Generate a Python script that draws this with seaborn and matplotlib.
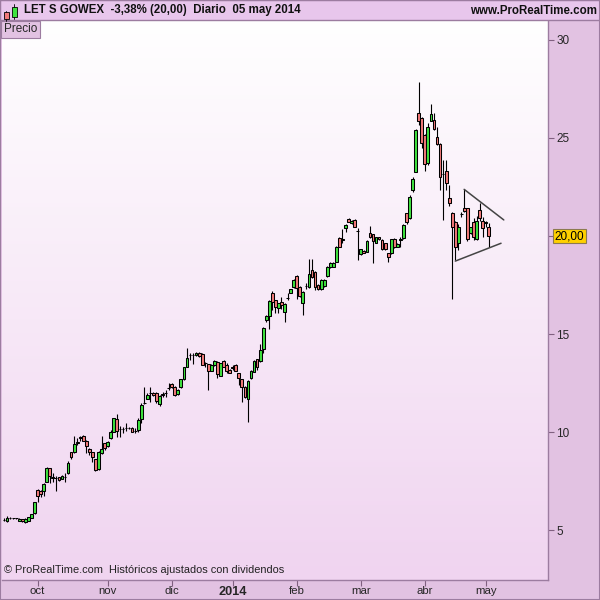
import numpy as np
import matplotlib
matplotlib.use("Agg")
import matplotlib.pyplot as plt
import matplotlib.transforms as mtransforms
from matplotlib.patches import Rectangle
import seaborn as sns

# ---------------- data (daily OHLC, LET S GOWEX, sep 2013 - 05 may 2014) ----------------
open_ = [5.50, 5.46, 5.59, 5.60, 5.60, 5.46, 5.55, 5.41, 5.47, 5.63,
         5.85, 7.03, 7.01, 7.01, 7.47, 8.15, 7.68, 7.66, 7.69, 7.62,
         7.69, 7.92, 8.98, 8.98, 9.46, 9.72, 9.80, 9.56, 9.12, 8.96,
         8.61, 8.11, 8.91, 9.42, 9.29, 9.68, 10.02, 10.65, 10.13, 10.13,
         10.18, 10.19, 10.22, 10.06, 10.10, 10.65, 11.48, 11.70, 11.99, 12.00,
         12.00, 11.43, 11.91, 12.00, 12.25, 12.45, 12.31, 11.94, 12.28, 12.69,
         13.33, 13.92, 13.93, 13.93, 14.05, 13.98, 13.51, 13.45, 13.13, 13.42,
         13.59, 12.87, 13.64, 13.42, 13.16, 13.29, 13.42, 13.00, 12.69, 12.31,
         11.68, 12.74, 13.08, 13.71, 13.62, 14.23, 15.71, 15.92, 17.08, 16.73,
         16.31, 16.65, 16.14, 16.84, 17.11, 17.38, 17.96, 17.41, 16.57, 17.44,
         17.38, 18.27, 18.18, 17.50, 17.28, 17.45, 17.96, 18.40, 18.43, 18.69,
         19.88, 19.82, 20.39, 20.87, 20.65, 20.82, 20.26, 19.08, 19.25, 19.20,
         20.14, 20.09, 19.66, 19.93, 19.80, 19.63, 19.12, 19.12, 19.86, 19.45,
         19.82, 19.90, 21.16, 20.90, 22.35, 23.28, 26.29, 26.04, 25.15, 23.74,
         25.88, 25.92, 25.07, 24.69, 23.14, 23.33, 21.92, 21.16, 20.73, 19.63,
         21.10, 21.41, 21.41, 20.14, 20.73, 19.83, 21.33, 20.78, 20.66, 20.44]
high = [5.60, 5.71, 5.64, 5.63, 5.62, 5.61, 5.58, 5.60, 5.68, 5.83,
        6.45, 7.08, 7.05, 7.38, 8.21, 8.18, 7.91, 7.76, 7.72, 7.79,
        7.92, 8.52, 9.00, 9.81, 9.68, 9.81, 9.83, 9.58, 9.17, 8.99,
        8.64, 9.03, 9.81, 9.45, 9.52, 10.10, 10.73, 10.92, 10.31, 10.24,
        10.44, 10.25, 10.25, 10.19, 10.70, 11.47, 12.31, 11.97, 12.31, 12.03,
        12.06, 11.88, 12.06, 12.14, 12.51, 12.48, 12.34, 12.17, 12.72, 13.33,
        14.27, 14.05, 14.05, 14.08, 14.08, 14.01, 13.59, 13.48, 13.45, 13.67,
        13.62, 13.53, 13.67, 13.50, 13.19, 13.42, 13.45, 13.03, 12.72, 12.34,
        12.65, 13.16, 13.65, 13.74, 14.49, 15.37, 15.97, 16.73, 17.19, 16.76,
        16.60, 16.91, 16.56, 17.11, 17.31, 17.79, 17.99, 17.44, 17.19, 17.59,
        18.81, 18.81, 18.21, 17.53, 17.79, 17.79, 18.46, 18.67, 18.67, 19.48,
        19.93, 20.34, 20.59, 20.90, 20.81, 20.85, 20.39, 19.35, 19.28, 19.79,
        20.51, 20.12, 19.96, 19.96, 19.83, 19.66, 19.15, 19.86, 19.89, 19.62,
        19.96, 20.59, 21.19, 22.09, 23.03, 25.44, 27.87, 26.07, 25.18, 25.75,
        26.73, 26.26, 25.55, 24.72, 23.88, 23.88, 22.60, 21.22, 20.76, 20.61,
        21.24, 22.38, 21.44, 20.47, 20.92, 21.02, 21.70, 20.97, 20.78, 20.65]
low = [5.46, 5.43, 5.56, 5.57, 5.57, 5.44, 5.42, 5.36, 5.45, 5.61,
       5.82, 6.45, 6.70, 6.75, 7.44, 7.38, 7.47, 7.01, 7.50, 7.59,
       7.45, 7.88, 8.61, 8.95, 9.34, 9.55, 9.52, 8.91, 8.83, 8.47,
       8.03, 8.08, 8.88, 9.08, 9.26, 9.64, 9.99, 9.76, 9.76, 9.96,
       10.07, 10.13, 9.99, 9.93, 10.02, 10.44, 11.43, 11.67, 11.53, 11.86,
       11.46, 11.33, 11.80, 11.77, 12.14, 12.25, 11.86, 11.91, 12.25, 12.66,
       13.30, 13.67, 13.47, 13.90, 13.85, 13.40, 13.33, 12.14, 13.10, 13.39,
       12.74, 12.84, 13.30, 13.03, 13.00, 13.16, 13.10, 12.40, 11.55, 11.72,
       10.53, 12.71, 13.05, 13.16, 13.59, 14.01, 15.63, 15.24, 16.22, 16.06,
       16.06, 16.26, 15.63, 16.73, 17.08, 17.35, 16.77, 16.91, 15.97, 17.28,
       17.35, 17.86, 17.24, 17.25, 17.25, 17.42, 17.93, 18.37, 18.40, 18.66,
       19.42, 19.63, 20.22, 20.70, 20.62, 20.44, 18.78, 19.05, 19.12, 19.17,
       19.90, 18.64, 19.63, 19.80, 19.29, 19.29, 18.69, 19.09, 19.39, 19.42,
       19.45, 19.87, 20.61, 20.87, 22.25, 23.25, 25.66, 24.49, 23.32, 23.62,
       25.85, 25.41, 24.66, 22.35, 20.82, 22.35, 21.53, 16.77, 18.78, 19.29,
       20.97, 21.22, 19.76, 20.11, 19.80, 19.80, 20.77, 19.96, 20.47, 19.45]
close = [5.53, 5.63, 5.60, 5.60, 5.59, 5.58, 5.44, 5.58, 5.65, 5.80,
         6.41, 6.75, 6.84, 7.33, 8.15, 7.77, 7.66, 7.67, 7.54, 7.76,
         7.71, 8.43, 8.71, 9.39, 9.48, 9.74, 9.56, 9.30, 8.98, 8.72,
         8.06, 9.00, 9.12, 9.17, 9.49, 10.02, 10.70, 10.07, 10.14, 10.14,
         10.19, 10.19, 10.02, 10.07, 10.61, 11.36, 11.50, 11.87, 12.01, 11.89,
         11.57, 11.85, 11.92, 12.00, 12.26, 12.28, 11.89, 12.14, 12.69, 13.30,
         13.76, 13.93, 13.94, 14.05, 13.88, 13.43, 13.52, 13.13, 13.42, 13.64,
         12.96, 13.50, 13.33, 13.13, 13.03, 13.30, 13.13, 12.74, 12.31, 11.80,
         12.62, 13.13, 13.62, 13.33, 14.18, 15.29, 15.92, 16.70, 16.65, 16.36,
         16.57, 16.48, 16.53, 16.85, 17.28, 17.76, 17.33, 16.94, 17.16, 17.45,
         18.06, 17.89, 17.38, 17.28, 17.76, 17.76, 18.43, 18.64, 18.64, 19.45,
         19.45, 19.83, 20.56, 20.73, 20.78, 20.47, 20.27, 19.32, 19.15, 19.76,
         19.93, 19.76, 19.93, 19.83, 19.32, 19.32, 18.91, 19.83, 19.42, 19.59,
         19.83, 20.56, 20.73, 22.00, 22.89, 25.41, 25.88, 24.76, 23.67, 25.58,
         26.21, 25.44, 24.69, 22.99, 23.18, 22.69, 21.70, 20.44, 19.42, 20.44,
         21.11, 21.29, 19.83, 20.44, 19.96, 20.78, 20.90, 20.39, 20.70, 20.00]

month_labels = ["oct", "nov", "dic", "2014", "feb", "mar", "abr", "may"]
month_first_session = [11, 34, 55, 75, 96, 117, 138, 158]   # session index of 1st trading day
price_ticks = [5, 10, 15, 20, 25, 30]
last_price_label = "20,00"

# hand-drawn triangle (session index, price)
tri_upper_x = [150.9, 163.9]
tri_upper_y = [22.38, 20.82]
tri_lower_x = [148.0, 163.0]
tri_lower_y = [18.72, 19.63]

title_text = "LET S GOWEX  -3,38% (20,00)  Diario  05 may 2014"
site_text = "www.ProRealTime.com"
footer_text = "© ProRealTime.com  Históricos ajustados con dividendos"

# ---------------- styling ----------------
sns.set_theme(style="white")
plt.rcParams["font.family"] = ["Liberation Sans", "DejaVu Sans"]

FRAME = "#E2C2E2"
HEADER = "#E8C6EC"
EDGE = "#9C7CA0"
GREEN = "#3FE23F"
RED = "#F27A7A"

W, H = 600, 600
fig = plt.figure(figsize=(6, 6), dpi=100, facecolor=FRAME)

# plot area: x 2..548 px, y 20..580 px
ax = fig.add_axes([2 / W, 20 / H, 546 / W, 560 / H])
n = len(close)
idx = np.arange(n)
x0, x1 = -0.66, 178.4
y0, y1 = 2.45, 31.02
ax.set_xlim(x0, x1)
ax.set_ylim(y0, y1)

# gradient background
grad = np.linspace(0, 1, 256).reshape(-1, 1)
top_c = np.array([1.0, 1.0, 1.0])
bot_c = np.array([0xF0, 0xD4, 0xF0]) / 255
img = top_c[None, None, :] * (1 - grad[:, :, None]) + bot_c[None, None, :] * grad[:, :, None]
ax.imshow(img, extent=[x0, x1, y0, y1], aspect="auto", origin="upper", zorder=0)

# candles
o = np.array(open_)
c = np.array(close)
hi = np.array(high)
lo = np.array(low)
up = c >= o
ax.vlines(idx, lo, hi, color="black", linewidth=0.8, zorder=2)
body_h = np.maximum(np.abs(c - o), 0.015)
ax.bar(idx, body_h, bottom=np.minimum(o, c), width=0.9,
       color=np.where(up, GREEN, RED), edgecolor="black", linewidth=0.75, zorder=3)

# triangle trendlines
sns.lineplot(x=tri_upper_x, y=tri_upper_y, ax=ax, color="#444444", linewidth=1.1, zorder=4)
sns.lineplot(x=tri_lower_x, y=tri_lower_y, ax=ax, color="#444444", linewidth=1.1, zorder=4)

# axes styling
for s in ["left", "top"]:
    ax.spines[s].set_visible(False)
for s in ["right", "bottom"]:
    ax.spines[s].set_visible(True)
    ax.spines[s].set_color(EDGE)
    ax.spines[s].set_linewidth(1.0)
ax.yaxis.tick_right()
ax.set_yticks(price_ticks)
ax.set_yticklabels([str(t) if t != 20 else "" for t in price_ticks])
ax.tick_params(axis="y", direction="out", length=4, width=0.8, color="#806080",
               labelsize=8.5, pad=2, right=True, left=False)
ax.set_xticks(month_first_session)
ax.set_xticklabels(month_labels)
ax.tick_params(axis="x", direction="out", length=4, width=0.8, color="#806080",
               labelsize=8.2, pad=0.5, bottom=True)
for lab in ax.get_xticklabels():
    if lab.get_text() == "2014":
        lab.set_fontweight("bold")
        lab.set_fontsize(9.2)
ax.grid(False)

# last price box on the right axis
trans = mtransforms.blended_transform_factory(ax.transAxes, ax.transData)
ax.text(1.012, c[-1], last_price_label, transform=trans, ha="left", va="center",
        fontsize=8.5, color="black", zorder=6, clip_on=False,
        bbox=dict(boxstyle="square,pad=0.12", facecolor="#FFD000", edgecolor="#8C7A50", linewidth=0.8))

# "Precio" tag
ax.text(0.003, 0.994, "Precio", transform=ax.transAxes, ha="left", va="top", fontsize=8.5,
        zorder=6, bbox=dict(boxstyle="square,pad=0.22", facecolor=FRAME, edgecolor=EDGE, linewidth=0.8))

# footer inside plot
ax.text(0.004, 0.009, footer_text, transform=ax.transAxes, ha="left", va="bottom",
        fontsize=7.9, color="#222222", zorder=6)

# header bar
fig.patches.append(Rectangle((0, 580 / H), 1, 20 / H, transform=fig.transFigure,
                             facecolor=HEADER, edgecolor=EDGE, linewidth=1.0, zorder=1))
# small candle icon
fig.patches.append(Rectangle((3.5 / W, (600 - 19) / H), 5 / W, 7 / H, transform=fig.transFigure,
                             facecolor=RED, edgecolor="black", linewidth=0.6, zorder=3))
fig.lines.append(plt.Line2D([6 / W, 6 / W], [(600 - 21) / H, (600 - 11) / H],
                            transform=fig.transFigure, color="black", linewidth=0.6, zorder=2))
fig.patches.append(Rectangle((11.5 / W, (600 - 17) / H), 5 / W, 10 / H, transform=fig.transFigure,
                             facecolor=GREEN, edgecolor="black", linewidth=0.6, zorder=3))
fig.lines.append(plt.Line2D([14 / W, 14 / W], [(600 - 19) / H, (600 - 4) / H],
                            transform=fig.transFigure, color="black", linewidth=0.6, zorder=2))
fig.text(24 / W, (600 - 10.5) / H, title_text, ha="left", va="center", fontsize=8.3,
         fontweight="bold", color="#111111", zorder=4)
fig.text(597 / W, (600 - 10.5) / H, site_text, ha="right", va="center", fontsize=8.3,
         fontweight="bold", color="#111111", zorder=4)

# outer border
fig.patches.append(Rectangle((0, 0), 1, 1, transform=fig.transFigure, fill=False,
                             edgecolor=EDGE, linewidth=1.5, zorder=10))

fig.savefig("out.png", dpi=100, facecolor=FRAME)
